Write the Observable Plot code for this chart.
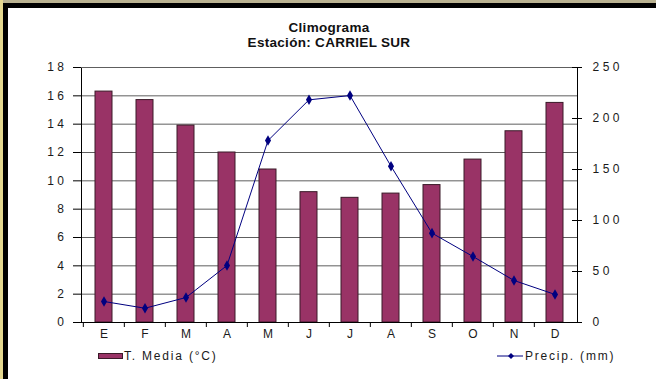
<!DOCTYPE html>
<html><head><meta charset="utf-8">
<script src="https://cdn.jsdelivr.net/npm/d3@7"></script>
<script src="https://cdn.jsdelivr.net/npm/@observablehq/plot@0.6"></script>
<style>
html,body{margin:0;padding:0;background:#fff;}
#frame{position:relative;width:656px;height:379px;overflow:hidden;background:#fff;font-family:"Liberation Sans",Arial,sans-serif;color:#1a1a1a;}
.abs{position:absolute;}
#title{position:absolute;left:0;top:20px;width:658px;text-align:center;font-weight:bold;font-size:13.5px;line-height:15px;color:#111;letter-spacing:0.3px;}
#chart{position:absolute;left:0;top:56px;}
#chart g[aria-label="y-axis tick label"] text{letter-spacing:3.5px;}
#chart g[aria-label="x-axis tick label"] text{letter-spacing:0px;}
.leg{position:absolute;top:349px;font-size:12px;letter-spacing:1.8px;line-height:14px;color:#1a1a1a;}
</style>
</head><body>
<div id="frame">
  <div class="abs" style="left:0;top:0;width:656px;height:3px;background:#b9b291"></div>
  <div class="abs" style="left:0;top:0;width:3px;height:379px;background:#e4d78f"></div>
  <div class="abs" style="left:3px;top:3px;width:653px;height:5px;background:#000"></div>
  <div class="abs" style="left:3px;top:3px;width:5px;height:376px;background:#000"></div>
  <div id="title">Climograma<br>Estación: CARRIEL SUR</div>
  <div id="chart"></div>
  <div class="abs" style="left:98px;top:353px;width:23px;height:4px;background:#993366;border:1px solid #3a1a28"></div>
  <div class="leg" style="left:124px">T. Media (°C)</div>
  <svg class="abs" style="left:497px;top:350px" width="26" height="12"><line x1="0" y1="6" x2="26" y2="6" stroke="#000080" stroke-width="1"/><path d="M11,6 L14,3 L17,6 L14,9 Z" fill="#000080"/></svg>
  <div class="leg" style="left:525px">Precip. (mm)</div>
</div>
<script>
const monthKeys = ["Ene","Feb","Mar","Abr","May","Jun","Jul","Ago","Sep","Oct","Nov","Dic"];
const monthLabels = ["E","F","M","A","M","J","J","A","S","O","N","D"];
const tempMedia = [16.3,15.7,13.9,12.0,10.8,9.2,8.8,9.1,9.7,11.5,13.5,15.5];
const precip = [20.6,14,24.5,55.9,178.4,218.3,222.5,153.2,87.6,64.7,41.2,27.5];
const leftTicks = [0,2,4,6,8,10,12,14,16,18];
const rightTicks = [0,50,100,150,200,250];

const leftMax = 18, rightMax = 250;
const toLeft = v => v * leftMax / rightMax;
const data = monthKeys.map((m, i) => ({m, label: monthLabels[i], t: tempMedia[i], p: precip[i]}));
const labelOf = Object.fromEntries(monthKeys.map((m, i) => [m, monthLabels[i]]));

const W = 656, H = 289, mL = 81, mR = 79;
const step = (W - mL - mR) / monthKeys.length;

const chart = Plot.plot({
  width: W, height: H,
  marginLeft: mL, marginRight: mR, marginTop: 11, marginBottom: 23,
  style: {fontFamily: "'Liberation Sans', Arial, sans-serif", fontSize: "12px", color: "#1a1a1a", background: "transparent"},
  x: {domain: monthKeys, type: "band", paddingInner: 0.58, paddingOuter: 0.29, axis: null, label: null},
  y: {domain: [0, leftMax], axis: null, label: null},
  marks: [
    Plot.ruleY(leftTicks.slice(1), {stroke: "#5e5e5e", strokeWidth: 1}),
    Plot.barY(data, {x: "m", y: "t", fill: "#993366", stroke: "#3a1a28", strokeWidth: 1}),
    Plot.frame({stroke: "#000", strokeWidth: 1}),
    Plot.ruleY([leftMax], {stroke: "#5e5e5e"}),
    Plot.line(data, {x: "m", y: d => toLeft(d.p), stroke: "#000080", strokeWidth: 1}),
    Plot.dot(data, {x: "m", y: d => toLeft(d.p), symbol: "diamond", r: 3.2, fill: "#000080", stroke: "none"}),
    Plot.axisY(leftTicks, {anchor: "left", label: null, tickSize: 8, tickPadding: 6, stroke: "#000", tickFormat: d => String(d)}),
    Plot.axisY(rightTicks.map(toLeft), {anchor: "right", label: null, tickSize: 4, tickPadding: 11, stroke: "#000", tickFormat: d => String(Math.round(d * rightMax / leftMax))}),
    Plot.axisY(rightTicks.map(toLeft), {anchor: "right", label: null, tickSize: -6, stroke: "#000", tickFormat: () => ""}),
    Plot.axisX(monthKeys, {anchor: "bottom", label: null, tickSize: 5, dx: -step / 2, stroke: "#000", tickFormat: () => ""}),
    Plot.axisX(monthKeys, {anchor: "bottom", label: null, tickSize: 0, tickPadding: 7, tickFormat: d => labelOf[d]})
  ]
});
document.getElementById("chart").appendChild(chart);
</script>
</body></html>
